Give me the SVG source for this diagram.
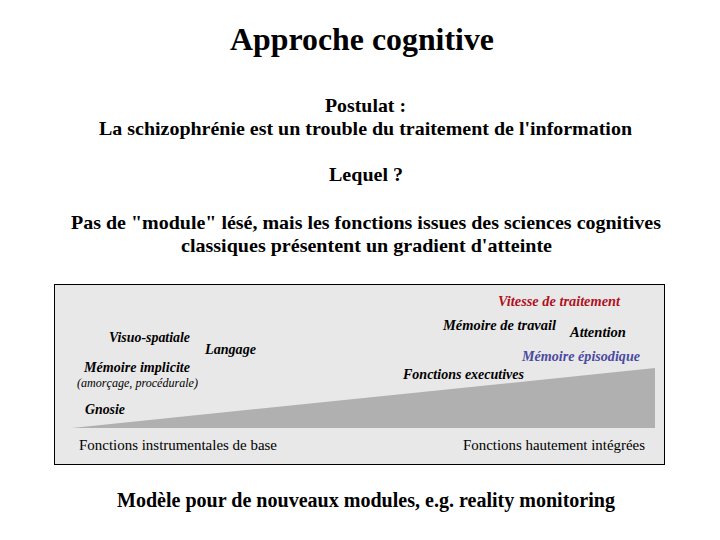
<svg xmlns="http://www.w3.org/2000/svg" width="720" height="540" viewBox="0 0 720 540">
<style>
text{font-family:"Liberation Serif","Times New Roman",serif;fill:#000}
.h{font-weight:bold;font-size:19px}
.t{font-weight:bold;font-size:31px}
.f{font-weight:bold;font-size:20px}
.l{font-style:italic;font-weight:bold;font-size:14px}
.s{font-size:15px}
.p{font-style:italic;font-size:12px}
</style>
<rect width="720" height="540" fill="#fff"/>
<g id="header">
<text class="t" x="230" y="50" textLength="264" lengthAdjust="spacingAndGlyphs">Approche cognitive</text>
<text class="h" x="325" y="112" textLength="81" lengthAdjust="spacingAndGlyphs">Postulat :</text>
<text class="h" x="99" y="135" textLength="533" lengthAdjust="spacingAndGlyphs">La schizophrénie est un trouble du traitement de l'information</text>
<text class="h" x="329" y="181" textLength="74" lengthAdjust="spacingAndGlyphs">Lequel ?</text>
<text class="h" x="71" y="229" textLength="590" lengthAdjust="spacingAndGlyphs">Pas de "module" lésé, mais les fonctions issues des sciences cognitives</text>
<text class="h" x="181" y="252" textLength="371" lengthAdjust="spacingAndGlyphs">classiques présentent un gradient d'atteinte</text>
</g>
<g id="panel">
<rect x="54.5" y="284.5" width="610" height="180" fill="#e8e8e8" stroke="#000" stroke-width="1"/>
<polygon points="72,428 655,368 655,428" fill="#b0b0b0"/>
</g>
<g id="labels">
<text class="l" x="498" y="306" style="fill:#b01020" textLength="122" lengthAdjust="spacingAndGlyphs">Vitesse de traitement</text>
<text class="l" x="443" y="330" textLength="113" lengthAdjust="spacingAndGlyphs">Mémoire de travail</text>
<text class="l" x="570" y="337" textLength="56" lengthAdjust="spacingAndGlyphs">Attention</text>
<text class="l" x="522" y="361" style="fill:#4a4aa0" textLength="118" lengthAdjust="spacingAndGlyphs">Mémoire épisodique</text>
<text class="l" x="403" y="379" textLength="121" lengthAdjust="spacingAndGlyphs">Fonctions executives</text>
<text class="l" x="109" y="342" textLength="81" lengthAdjust="spacingAndGlyphs">Visuo-spatiale</text>
<text class="l" x="205" y="354" textLength="51" lengthAdjust="spacingAndGlyphs">Langage</text>
<text class="l" x="84" y="372" textLength="106" lengthAdjust="spacingAndGlyphs">Mémoire implicite</text>
<text class="p" x="77" y="387" textLength="121" lengthAdjust="spacingAndGlyphs">(amorçage, procédurale)</text>
<text class="l" x="85" y="414" textLength="40" lengthAdjust="spacingAndGlyphs">Gnosie</text>
<text class="s" x="79" y="450" textLength="198" lengthAdjust="spacingAndGlyphs">Fonctions instrumentales de base</text>
<text class="s" x="463" y="450" textLength="182" lengthAdjust="spacingAndGlyphs">Fonctions hautement intégrées</text>
</g>
<g id="footer">
<text class="f" x="117" y="507" textLength="498" lengthAdjust="spacingAndGlyphs">Modèle pour de nouveaux modules, e.g. reality monitoring</text>
</g>
</svg>
